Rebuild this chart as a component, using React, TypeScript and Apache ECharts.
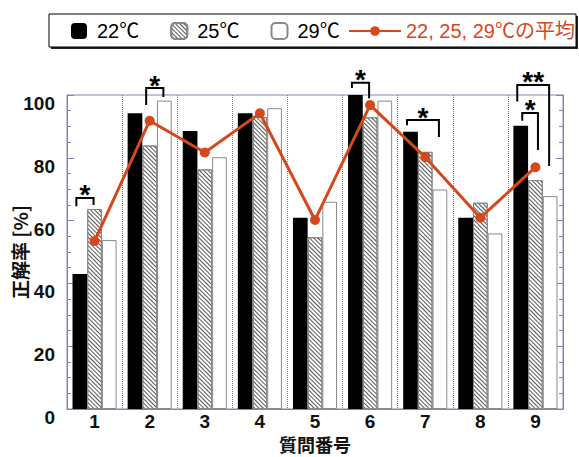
import React, { useEffect, useRef } from 'react';
import * as echarts from 'echarts';

const categories = ['1', '2', '3', '4', '5', '6', '7', '8', '9'];
const temp22 = [43.0, 94.2, 88.5, 94.2, 60.9, 100, 88.3, 60.9, 90.2];
const temp25 = [63.7, 83.9, 76.3, 93.0, 54.7, 92.9, 81.9, 65.7, 72.9];
const temp29 = [53.8, 98.2, 80.2, 95.8, 66.0, 98.2, 69.9, 55.9, 67.8];
const average = [53.5, 91.8, 81.7, 94.2, 60.2, 96.8, 80.2, 60.9, 77.0];
const seriesNames = ['22℃', '25℃', '29℃', '22, 25, 29℃の平均'];

// significance brackets: category index, bars compared, value levels, mark
const sigCat = [0, 1, 5, 6, 8, 8];
const sigFrom = [0, 1, 0, 0, 0, 0];
const sigTo = [1, 2, 1, 2, 1, 2];
const sigTop = [67.2, 102.2, 103.9, 92.0, 94.3, 103.2];
const sigLeftEnd = [64.6, 96.8, 102.2, 90.4, 91.8, 97.9];
const sigRightEnd = [65.0, 99.4, 99.0, 86.6, 82.5, 77.4];
const sigNested = [0, 0, 0, 0, 1, 0];
const sigMark = ['*', '*', '*', '*', '*', '**'];

const AXIS = '#8282b4';
const RED = '#d4481c';
const FONT = "'Liberation Sans', 'Noto Sans CJK JP', sans-serif";
const CJK = "'Noto Sans CJK JP', sans-serif";

export default function App() {
  const ref = useRef<HTMLDivElement>(null);
  useEffect(() => {
    if (!ref.current) return;
    const chart = echarts.init(ref.current, null, { renderer: 'svg' });
    const legendBox = [
      { id: 'lgShadow', type: 'rect', z: 1, shape: { x: 51, y: 16, width: 527, height: 33 }, style: { fill: '#222' } },
      { id: 'lgBox', type: 'rect', z: 2, shape: { x: 49, y: 14, width: 527, height: 33 }, style: { fill: '#fff', stroke: '#000', lineWidth: 1 } },
    ];
    const valueAxisBase = {
      type: 'value',
      min: 0,
      max: 100,
      interval: 20,
      splitLine: { show: false },
      axisLine: { show: true, lineStyle: { color: AXIS, width: 1 } },
      axisTick: { show: true, inside: true, length: 7, lineStyle: { color: AXIS } },
      minorTick: { show: true, splitNumber: 4, length: 4, lineStyle: { color: AXIS } },
    };
    const option: any = {
      animation: false,
      backgroundColor: '#fff',
      grid: {
        left: 67, right: 16, top: 95, bottom: 48,
        outerBoundsMode: 'none', containLabel: false,
        show: true, borderColor: AXIS, borderWidth: 1,
      },
      legend: [
        {
          data: seriesNames.slice(0, 3),
          left: 71,
          top: 21,
          padding: 0,
          itemWidth: 16,
          itemHeight: 16,
          itemGap: 31,
          selectedMode: false,
          z: 10,
          textStyle: { fontSize: 20, fontFamily: FONT, color: '#000', padding: [0, 0, 0, 5] },
        },
        {
          data: [seriesNames[3]],
          left: 348,
          top: 21,
          padding: 0,
          itemWidth: 52,
          itemHeight: 12,
          selectedMode: false,
          z: 10,
          textStyle: { fontSize: 20, fontFamily: FONT, color: RED },
        },
      ],
      xAxis: {
        type: 'category',
        data: categories,
        name: '質問番号',
        nameLocation: 'middle',
        nameGap: 26,
        nameMoveOverlap: false,
        nameTextStyle: { fontSize: 18, lineHeight: 18, fontWeight: 'bold', fontFamily: CJK, color: '#111' },
        axisLine: { show: true, lineStyle: { color: AXIS } },
        axisTick: { show: false },
        axisLabel: { fontSize: 19, fontWeight: 'bold', fontFamily: FONT, color: '#111', margin: 3 },
        splitLine: { show: true, interval: 0, lineStyle: { type: 'dotted', color: '#7a7aae', width: 1 } },
      },
      yAxis: [
        {
          ...valueAxisBase,
          position: 'left',
          name: '正解率 [%]',
          nameLocation: 'middle',
          nameRotate: 90,
          nameGap: 38,
          nameMoveOverlap: false,
          nameTextStyle: { fontSize: 19, lineHeight: 19, fontWeight: 'bold', fontFamily: CJK, color: '#111' },
          axisLabel: {
            fontSize: 19, fontWeight: 'bold', fontFamily: FONT, color: '#111', margin: 12,
            formatter: '{v|{value}}',
            rich: { v: { fontSize: 19, fontWeight: 'bold', fontFamily: FONT, color: '#111', padding: [17, 0, 0, 0] } },
          },
        },
        {
          ...valueAxisBase,
          position: 'right',
          axisLabel: { show: false },
        },
      ],
      series: [
        {
          name: seriesNames[0],
          type: 'bar',
          data: temp22,
          barGap: '0%',
          barCategoryGap: '20%',
          itemStyle: { color: '#000' },
        },
        {
          name: seriesNames[1],
          type: 'bar',
          data: temp25,
          barGap: '0%',
          barCategoryGap: '20%',
          itemStyle: {
            color: '#fff',
            borderColor: '#888',
            borderWidth: 1,
            decal: {
              symbol: 'rect',
              symbolSize: 1,
              dashArrayX: [1, 0],
              dashArrayY: [1, 2],
              rotation: Math.PI / 4,
              color: '#555',
              backgroundColor: '#fff',
            },
          },
        },
        {
          name: seriesNames[2],
          type: 'bar',
          data: temp29,
          barGap: '0%',
          barCategoryGap: '20%',
          itemStyle: { color: '#fff', borderColor: '#8a8a8a', borderWidth: 1 },
        },
        {
          name: seriesNames[3],
          type: 'line',
          data: average,
          symbol: 'circle',
          symbolSize: 10,
          z: 5,
          lineStyle: { color: RED, width: 3 },
          itemStyle: { color: RED },
        },
      ],
      graphic: legendBox,
    };
    chart.setOption(option);

    const px = (c: number, v: number) => chart.convertToPixel({ xAxisIndex: 0, yAxisIndex: 0 }, [c, v]) as number[];
    const band = px(1, 0)[0] - px(0, 0)[0];
    const barW = (band * 0.8) / 3;
    const barCenter = (c: number, k: number) => px(c, 0)[0] + (k - 1) * barW;
    const annotations: any[] = [];
    sigCat.forEach((c, i) => {
      const nest = sigNested[i];
      const xl = barCenter(c, sigFrom[i]) + (nest ? 1.5 : -3.5);
      const xr = barCenter(c, sigTo[i]) + (nest ? 2.5 : -1);
      const yT = px(c, sigTop[i])[1];
      const yL = px(c, sigLeftEnd[i])[1];
      const yR = px(c, sigRightEnd[i])[1];
      annotations.push({
        id: 'br' + i,
        type: 'polyline',
        z: 20,
        shape: { points: [[xl, yL], [xl, yT], [xr, yT], [xr, yR]] },
        style: { stroke: '#000', lineWidth: 2, fill: null },
      });
      annotations.push({
        id: 'st' + i,
        type: 'text',
        z: 20,
        x: (xl + xr) / 2,
        y: yT - 3,
        style: {
          text: sigMark[i],
          fontSize: 28,
          lineHeight: 14,
          fontWeight: 'bold',
          fontFamily: "'Liberation Sans', sans-serif",
          fill: '#000',
          align: 'center',
          verticalAlign: 'middle',
        },
      });
    });
    chart.setOption({ graphic: [...legendBox, ...annotations] });
    return () => chart.dispose();
  }, []);
  return <div ref={ref} style={{ position: 'fixed', left: 0, top: 0, width: 579, height: 457 }} />;
}
